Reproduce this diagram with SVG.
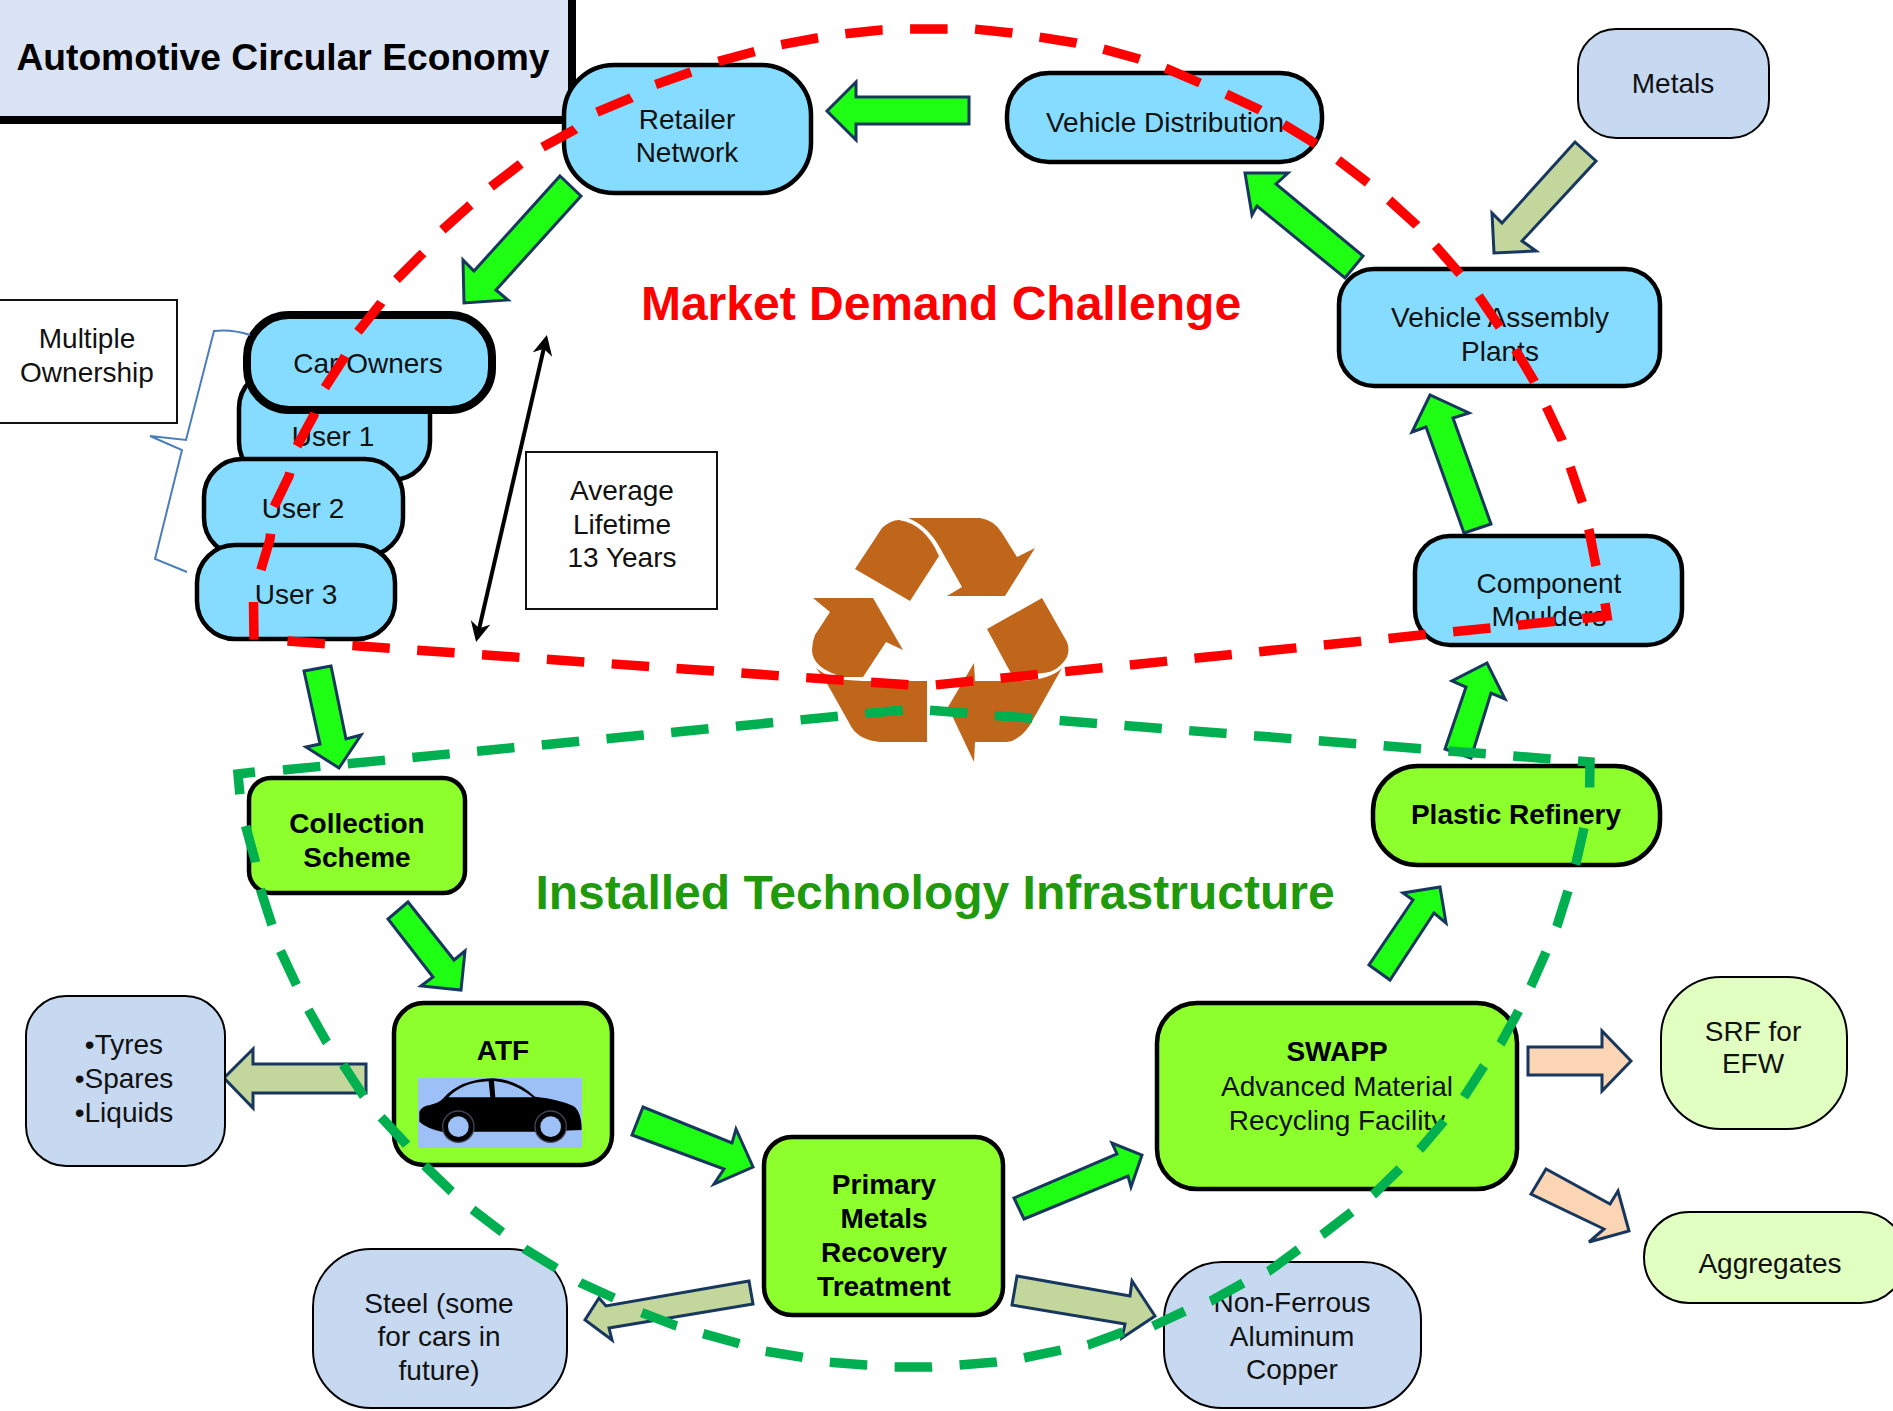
<svg xmlns="http://www.w3.org/2000/svg" width="1893" height="1411" viewBox="0 0 1893 1411">
<style>
text{font-family:"Liberation Sans",Arial,sans-serif;font-size:28px;fill:#111;text-anchor:middle}
.b{font-weight:bold;fill:#000}
.blue{fill:#85dcff;stroke:#000;stroke-width:4.5}
.lime{fill:#8cff2c;stroke:#000;stroke-width:4.5}
.pale{fill:#c6d9f1;stroke:#000;stroke-width:2}
.mint{fill:#e0ffc0;stroke:#000;stroke-width:2}
.note{fill:#fff;stroke:#111;stroke-width:2}
.ga{fill:#1eff14;stroke:#17375e;stroke-width:3;stroke-linejoin:miter}
.oa{fill:#c3d69b;stroke:#17375e;stroke-width:3}
.pa{fill:#fcd5b5;stroke:#17375e;stroke-width:3}
.dash{fill:none;stroke-width:9.5;stroke-dasharray:37.5 27.5}
.rec{fill:#c0661a}
.win{fill:#9dc0f7}
</style>
<defs>
<marker id="ah" viewBox="0 0 10 10" refX="8" refY="5" markerWidth="5" markerHeight="5" orient="auto-start-reverse"><path d="M0,0L10,5L0,10L3,5Z" fill="#000"/></marker>
</defs>
<rect width="1893" height="1411" fill="#fff"/>

<g id="title"><rect x="-10" y="-10" width="582" height="130" fill="#dae3f3" stroke="#000" stroke-width="8"/><text class="b" x="283" y="70" style="font-size:37.2px">Automotive Circular Economy</text></g>

<g id="recycle" class="rec">
<path d="M855,569L882,528Q891,520 899,520Q925,524 939,556L910,601Z"/>
<path d="M908,518L980,518Q994,520 1002,533L1017,557L1035,548L1005,596L947,596L962,587L940,548Q928,526 908,518Z"/>
<path d="M813,598L873,598L903,650L886,642L863,677L843,677Q812,668 812,650Q812,642 815,635L830,612Z"/>
<path d="M1042,598L1067,642Q1070,650 1067,657Q1058,672 1043,673L1013,677L987,629Z"/>
<path d="M816,668Q828,678 847,680L863,681L927,681L927,742L880,742Q860,740 852,728L825,680Z"/>
<path d="M974,663L975,681L1020,681Q1050,680 1062,668L1030,725Q1020,740 1007,742L975,742L974,762L948,707Z"/>
</g>

<g id="arrows">
<polygon class="ga" points="560,176 581,196 496,290 508,300 464,303 463,260 474,271"/>
<polygon class="ga" points="969,97 969,124 856,124 856,140 827,111 856,82 856,97"/>
<polygon class="ga" points="1363,256 1345,278 1257,206 1252,215 1245,173 1288,173 1276,184"/>
<polygon class="oa" points="1575,142 1596,161 1522,241 1536,251 1494,253 1492,213 1502,223"/>
<polygon class="ga" points="1491,524 1464,533 1426,427 1412,432 1430,395 1469,413 1453,418"/>
<polygon class="ga" points="304,671 331,666 346,739 361,735 339,768 306,747 320,744"/>
<polygon class="ga" points="408,902 388,919 433,977 421,986 461,990 465,951 454,960"/>
<polygon class="ga" points="643,1107 632,1135 724,1169 714,1184 753,1167 736,1129 732,1143"/>
<polygon class="oa" points="366,1064 366,1093 253,1093 253,1108 224,1078 253,1049 253,1064"/>
<polygon class="oa" points="749,1281 753,1304 609,1328 612,1340 585,1320 599,1298 606,1306"/>
<polygon class="ga" points="1014,1198 1024,1219 1128,1176 1131,1187 1142,1155 1112,1143 1117,1154"/>
<polygon class="oa" points="1017,1276 1012,1305 1125,1324 1122,1338 1155,1316 1132,1281 1130,1296"/>
<polygon class="ga" points="1369,965 1390,980 1434,913 1446,923 1440,887 1403,893 1413,900"/>
<polygon class="ga" points="1445,749 1471,758 1491,693 1505,699 1487,663 1452,681 1466,687"/>
<polygon class="pa" points="1528,1047 1528,1075 1602,1075 1602,1091 1631,1061 1602,1031 1602,1047"/>
<polygon class="pa" points="1546,1169 1531,1194 1604,1229 1589,1242 1629,1231 1618,1191 1610,1204"/>
</g>

<g id="retailer"><rect class="blue" x="564" y="65" width="247" height="128" rx="50"/><text x="687" y="129">Retailer</text><text x="687" y="162">Network</text></g>
<g id="distribution"><rect class="blue" x="1007" y="73" width="315" height="89" rx="42"/><text x="1165" y="132">Vehicle Distribution</text></g>
<g id="metals"><rect class="pale" x="1578" y="29" width="191" height="109" rx="38"/><text x="1673" y="93">Metals</text></g>
<g id="assembly"><rect class="blue" x="1339" y="269" width="321" height="117" rx="35"/><text x="1500" y="327">Vehicle Assembly</text><text x="1500" y="361">Plants</text></g>
<g id="component"><rect class="blue" x="1415" y="536" width="267" height="109" rx="35"/><text x="1549" y="593">Component</text><text x="1549" y="626">Moulders</text></g>
<g id="user1"><rect class="blue" x="239" y="370" width="191" height="110" rx="38"/><text x="333" y="446">User 1</text></g>
<g id="user2"><rect class="blue" x="204" y="459" width="199" height="97" rx="38"/><text x="303" y="518">User 2</text></g>
<g id="user3"><rect class="blue" x="197" y="545" width="198" height="94" rx="38"/><text x="296" y="604">User 3</text></g>
<g id="car-owners"><rect class="blue" x="247" y="315" width="245" height="95" rx="42" style="stroke-width:8"/><text x="368" y="373">Car Owners</text></g>
<g id="multiple"><rect class="note" x="-4" y="300" width="181" height="123"/><text x="87" y="348">Multiple</text><text x="87" y="382">Ownership</text></g>
<g id="lifetime"><rect class="note" x="526" y="452" width="191" height="157"/><text x="622" y="500">Average</text><text x="622" y="534">Lifetime</text><text x="622" y="567">13 Years</text></g>
<g id="collection"><rect class="lime" x="249" y="778" width="216" height="115" rx="22"/><text class="b" x="357" y="833">Collection</text><text class="b" x="357" y="867">Scheme</text></g>
<g id="atf"><rect class="lime" x="394" y="1003" width="218" height="162" rx="30"/><text class="b" x="503" y="1060">ATF</text>
<rect class="win" x="418" y="1078" width="164" height="70"/>
<g transform="translate(380 980) scale(.3333)">
<path d="M118,425L118,395Q125,378 150,375Q175,370 190,355Q240,297 340,295Q410,298 465,350Q540,358 580,378Q605,395 605,450L470,455L185,455Q140,445 118,425Z"/>
<path class="win" d="M205,352L331,352L326,304Q250,306 205,352ZM346,352L458,352Q405,308 342,303Z"/>
<circle cx="235" cy="440" r="49" fill="#445"/><circle cx="235" cy="440" r="45" fill="#000"/><circle cx="235" cy="440" r="31" class="win"/>
<circle cx="512" cy="440" r="49" fill="#445"/><circle cx="512" cy="440" r="45" fill="#000"/><circle cx="512" cy="440" r="31" class="win"/>
</g></g>
<g id="tyres"><rect class="pale" x="26" y="996" width="199" height="170" rx="40"/><text x="124" y="1054">•Tyres</text><text x="124" y="1088">•Spares</text><text x="124" y="1122">•Liquids</text></g>
<g id="steel"><rect class="pale" x="313" y="1249" width="254" height="159" rx="58"/><text x="439" y="1313">Steel (some</text><text x="439" y="1346">for cars in</text><text x="439" y="1380">future)</text></g>
<g id="primary"><rect class="lime" x="764" y="1137" width="239" height="178" rx="28"/><text class="b" x="884" y="1194">Primary</text><text class="b" x="884" y="1228">Metals</text><text class="b" x="884" y="1262">Recovery</text><text class="b" x="884" y="1296">Treatment</text></g>
<g id="plastic"><rect class="lime" x="1373" y="766" width="287" height="99" rx="45"/><text class="b" x="1516" y="824">Plastic Refinery</text></g>
<g id="swapp"><rect class="lime" x="1157" y="1003" width="360" height="186" rx="40"/><text class="b" x="1337" y="1061">SWAPP</text><text x="1337" y="1096">Advanced Material</text><text x="1337" y="1130">Recycling Facility</text></g>
<g id="srf"><rect class="mint" x="1661" y="977" width="186" height="152" rx="60"/><text x="1753" y="1041">SRF for</text><text x="1753" y="1073">EFW</text></g>
<g id="aggregates"><rect class="mint" x="1644" y="1212" width="262" height="91" rx="45"/><text x="1770" y="1273">Aggregates</text></g>
<g id="nonferrous"><rect class="pale" x="1164" y="1262" width="257" height="146" rx="58"/><text x="1292" y="1312">Non-Ferrous</text><text x="1292" y="1346">Aluminum</text><text x="1292" y="1379">Copper</text></g>

<text id="market" class="b" x="941" y="320" style="font-size:48px;fill:#f00">Market Demand Challenge</text>
<text id="installed" class="b" x="935" y="909" style="font-size:48px;fill:#1f9a0c">Installed Technology Infrastructure</text>

<g id="connectors">
<path d="M250,335Q232,329 214,331L186,440L150,436L182,450L155,559L187,572" fill="none" stroke="#4a7ebb" stroke-width="2"/>
<path d="M477,638L546,339" fill="none" stroke="#000" stroke-width="4" marker-start="url(#ah)" marker-end="url(#ah)"/>
<path class="dash" stroke="#f00" d="M287.5,641L925,686L1607,616L1604,597M1596,566L1589,530L1582.5,503L1570,466.5L1562,440L1546,406L1534,381L1515,349L1499,326L1478,295M1460,274L1435.6,246L1416.5,225L1389,200L1368,183L1338,160L1316,144L1283,124L1260,110L1226,94M1200,83L1165,68L1139,59L1103,49L1076,43L1039,37L1012,33L974,29L946,29L909,29L881,30L843,34L817,38L779,45L753,52L716,62M691,72L654,85L631,98L595,113L574,130L541,148L518,166L488,189L468,207L440,232M423,253L395,281L381,303L357,333L344,358L324,389L314,415L296,448L289,476L273,509L270,539L260,573M253.5,602L254,642"/>
<path class="dash" stroke="#00b050" d="M283,770L913,709L1590,762L1589.5,798M1584,828L1576,863L1568,891L1557,926L1546,952L1531,986L1518,1012L1501,1043L1484,1066L1464,1097M1444,1121L1421,1148L1401.5,1167L1374,1194L1353,1211L1323,1234L1299,1249L1269,1271L1245,1282L1211,1301L1185,1311L1153,1326M1123,1332L1088,1345L1061,1350L1023,1358L996,1362L959,1365L931,1367L893,1367L866,1365L828,1362L801,1357L764,1351L737,1343L701,1333L674,1325L640,1312M614,1298L581,1283L556,1268L525,1249L502,1232L472,1209L451,1191L423,1164L406,1144L380,1116L363,1095L342,1063L326,1041L308,1009L296,984L280,950L271,922L260,888L255,860L245,824M255,772L238,774L240,796"/>
</g>
</svg>
